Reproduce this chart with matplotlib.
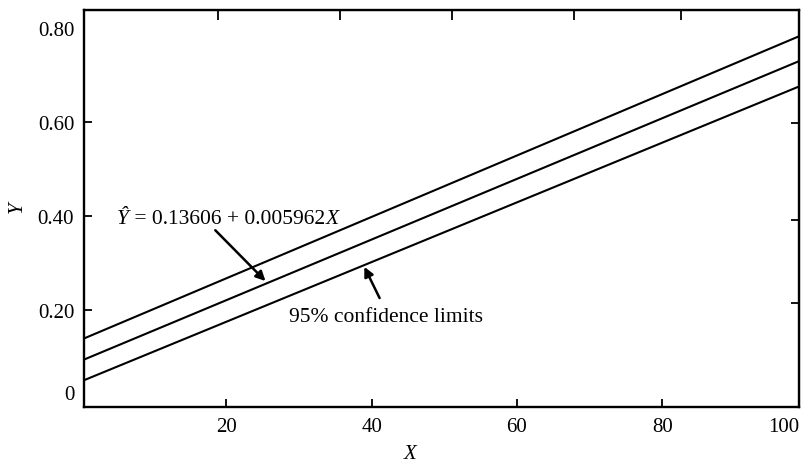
import matplotlib
matplotlib.use("Agg")
import matplotlib.pyplot as plt

# ---- data ----
x_ends = [0.43, 98.8]
upper_limit = [0.139, 0.783]
fitted_line = [0.094, 0.730]
lower_limit = [0.050, 0.676]

x_tick_vals = [20, 40, 60, 80]
x_tick_labels = ["20", "40", "60", "80"]
y_tick_vals = [0.2, 0.4, 0.6]
y_tick_labels = ["0.20", "0.40", "0.60"]
top_tick_vals = [18.9, 35.6, 51.1, 67.9, 82.6]
right_tick_vals = [0.214, 0.392, 0.598]

eq_parts = [("\u0176", "italic"), (" = 0.13606 + 0.005962", "normal"), ("X", "italic")]
ci_text = "95% confidence limits"

plt.rcParams["font.family"] = ["Liberation Serif", "DejaVu Serif"]

fig = plt.figure(figsize=(8.02, 4.64), dpi=100)
ax = fig.add_axes([0.1047, 0.1207, 0.8916, 0.8556])

for yv in (upper_limit, fitted_line, lower_limit):
    ax.plot(x_ends, yv, color="black", lw=1.5, solid_capstyle="butt")

ax.set_xlim(0.43, 98.8)
ax.set_ylim(-0.007, 0.839)

fs = 15
ax.set_xticks(x_tick_vals)
ax.set_xticklabels(x_tick_labels, fontsize=fs)
ax.set_xticks([96.7], minor=True)
ax.set_xticklabels(["100"], minor=True, fontsize=fs)
ax.set_yticks(y_tick_vals)
ax.set_yticklabels(y_tick_labels, fontsize=fs)
ax.set_yticks([0.024, 0.8], minor=True)
ax.set_yticklabels(["0", "0.80"], minor=True, fontsize=fs)

ax.tick_params(axis="both", which="major", direction="in", length=6, width=1.3, pad=7)
ax.tick_params(axis="both", which="minor", direction="in", length=0, pad=7)

for s in ax.spines.values():
    s.set_linewidth(1.7)

top = ax.secondary_xaxis("top")
top.set_xticks(top_tick_vals)
top.set_xticklabels([])
top.tick_params(direction="in", length=7, width=1.3)
right = ax.secondary_yaxis("right")
right.set_yticks(right_tick_vals)
right.set_yticklabels([])
right.tick_params(direction="in", length=6, width=1.3)

fig.text(410 / 802, 1 - 455 / 464, "X", fontsize=fs, style="italic", ha="center", va="center")
fig.text(17 / 802, 1 - 207 / 464, "Y", fontsize=fs, style="italic", ha="center", va="center", rotation=90)

# equation built from consecutive text pieces
prev = ax.text(5.0, 0.385, eq_parts[0][0], fontsize=15.5, style=eq_parts[0][1], ha="left", va="baseline")
for txt, sty in eq_parts[1:]:
    prev = ax.annotate(txt, xy=(1, 0), xycoords=prev, fontsize=15.5, style=sty,
                       ha="left", va="bottom")

ax.annotate("", xy=(25.4, 0.2614), xytext=(18.5, 0.3696),
            arrowprops=dict(arrowstyle="-|>", color="black", lw=1.8, mutation_scale=14, shrinkA=0, shrinkB=0))
ax.text(42.0, 0.185, ci_text, fontsize=15.5, ha="center", va="center")
ax.annotate("", xy=(39.0, 0.2916), xytext=(41.1, 0.2251),
            arrowprops=dict(arrowstyle="-|>", color="black", lw=1.8, mutation_scale=14, shrinkA=0, shrinkB=0))

fig.savefig("out.png", dpi=100)
